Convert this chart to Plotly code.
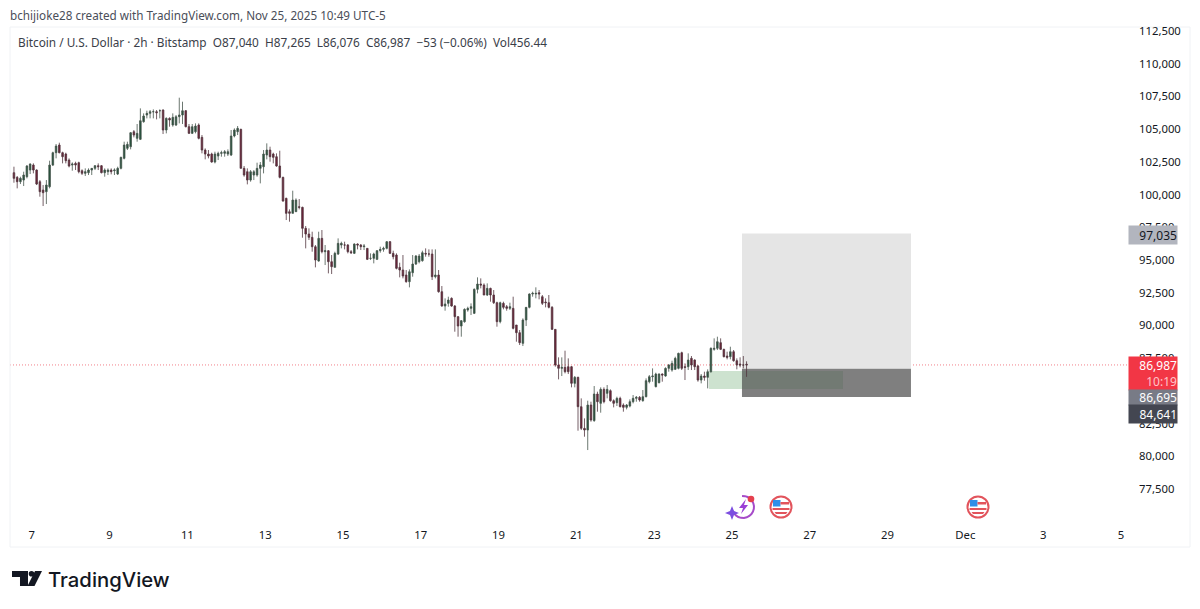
import math
import pandas as pd
import plotly.graph_objects as go

opens = [101675,101318,100987,101114,101369,101878,102260,101878,100987,100350,
    100223,100605,102260,103203,103789,103203,103101,102642,102260,102388,
    102439,101827,101624,101675,101878,102006,102209,102209,101675,101751,
    101878,101827,101573,102006,102770,103534,103661,104807,104298,104222,
    105572,106081,106208,106335,106335,106412,106463,104935,105826,105317,
    105317,105954,106081,106412,105189,104680,104807,105317,104374,103407,
    103101,103101,102490,102948,103152,103152,103101,103025,104476,104807,
    104986,102006,101751,101114,101497,101497,102006,102133,103025,103407,
    103101,102897,102184,101318,
    99715,98696,98568,98696,99078,99027,97422,96989,96735,96021,
    94926,96658,95640,95716,94875,94442,95461,96149,96149,96149,
    95640,95512,96225,96149,96021,95894,95130,95130,95054,95716,
    95818,95894,96404,95512,95385,94442,94239,93857,93347,94035,
    94697,94875,94952,95512,95461,95461,93729,93857,92583,91488,
    91692,92074,91488,90673,89960,90291,91182,91309,90927,92761,
    93169,93092,92328,92838,92328,91743,90291,
    91693,91438,91311,91311,90038,89452,88637,90420,91387,92406,
    92406,92508,92202,91795,91744,91387,89706,86981,86726,86803,
    86854,86854,85580,86039,83797,82142,82014,83925,82728,84765,
    84052,85122,84816,85020,84256,84103,84434,83925,83746,83848,
    84179,84434,84510,84256,84561,85708,86090,85326,85631,86293,
    86140,86726,86599,86650,86726,87923,86854,86854,87490,87363,
    86905,85835,86140,86039,86472,88178,88255,88688,88178,87669,
    87618,88000,87312,87057,86981,87040]

highs = [102133,101420,101369,101751,102260,102388,102388,101929,101114,100732,
    101114,102592,103279,103865,103967,103279,103203,102770,102464,102515,
    102515,101929,102006,102006,102006,102260,102388,102260,102006,102006,
    102006,102006,102133,102897,104043,104043,104782,104935,105393,106590,
    106208,106412,106463,106514,106463,106514,106514,105903,105903,106208,
    106081,107405,107100,106463,105393,105393,105444,105444,104553,103534,
    103407,103203,103279,103279,103356,103407,103458,104935,105062,105240,
    105037,102184,102006,101878,101878,102439,102490,103407,103916,103661,
    103203,103152,103356,101369,
    99766,98874,100300,99715,99664,99078,97601,97422,97168,96149,
    97168,97295,96149,95767,95385,95640,96658,96404,96404,96225,
    95767,96276,96276,96225,96225,95894,95512,95563,95767,96021,
    96021,96454,96454,95716,95512,94799,95385,94239,94290,95385,
    95385,95461,95716,95894,95818,95818,95818,94239,93016,92074,
    92201,92150,91564,90724,90418,91309,91437,91691,92838,93678,
    93602,93220,93220,92889,92710,91819,91819,
    91820,91566,91744,92202,90038,89655,90547,91387,92457,92584,
    92916,92712,92330,92075,92330,91489,89706,87567,87567,88076,
    87490,86905,86140,86090,84434,82906,84256,84179,85376,84944,
    85275,85275,85453,85122,84358,84561,84561,84052,84001,84358,
    84689,84612,84612,85071,85962,86217,86726,86395,86344,86344,
    86803,87057,87312,87618,87923,88000,87108,87873,87669,87414,
    86981,86293,86472,86650,88331,89019,89146,89019,88229,88000,
    88382,88127,87490,87567,87669,87265]

lows = [100910,100478,100809,100656,101242,101573,101624,100732,99841,99128,
    99281,100478,102184,102770,103152,102388,102388,102082,101827,101878,
    101624,101497,101420,101497,101497,101878,101878,101624,101369,101497,
    101547,101497,101497,101929,102693,103407,103458,104374,104043,104171,
    105495,105826,105826,105826,105750,105826,104629,104680,105189,105189,
    105240,105444,105393,105138,104629,104629,104680,104222,103152,102693,
    102770,102439,102388,102642,102897,102897,102948,102948,104374,104553,
    102006,101369,100783,100987,101114,101369,100860,101624,102693,102515,
    102388,102133,101242,99459,
    98059,97932,98568,98696,98874,96709,95894,96531,95640,94442,
    94875,95512,94621,93984,93933,94442,95385,95894,95818,95512,
    95461,95461,95818,95767,95767,95003,95003,94748,95003,95563,
    95640,95818,95461,95054,94290,93678,93602,93271,92914,93729,
    94621,94748,94875,95258,95258,93475,93602,92507,91437,91131,
    91437,91437,89527,89145,89145,90214,91055,90800,90876,92456,
    92838,92328,92252,91819,91640,89909,90163,
    91235,91133,91184,89706,88764,88509,88433,89961,91311,92202,
    92075,92001,91566,91387,91311,89655,86854,85886,86140,86344,
    86293,85275,85275,81964,82014,81505,80486,82651,82651,83415,
    83339,84052,84434,84179,83746,83848,83746,83415,83594,83746,
    84052,84179,84179,84179,84510,85580,85708,85275,85580,85708,
    86090,86472,86472,86599,86650,86599,85835,86599,86599,86599,
    85708,85580,85784,85198,86395,88076,88127,88127,87567,87414,
    87414,87236,86650,86803,86726,86076]

closes = [101242,100987,101242,101497,102184,102337,101878,100808,100223,100147,
    100732,102260,103203,103712,103203,102897,102592,102184,102337,102260,
    101751,101624,101751,101878,102006,102209,102133,101675,101878,101878,
    101751,101878,102006,102846,103789,103840,104731,104553,104680,105648,
    106004,106208,106335,106335,106259,106412,104935,105826,105699,105903,
    105954,106081,106412,105189,104680,105189,105240,104298,103407,103101,
    102948,102490,103101,103152,103203,103279,103279,104476,104935,105062,
    102006,101497,101114,101751,101751,102006,102260,103101,103407,102897,
    102846,102184,101318,99510,
    98568,98568,99587,99587,99027,97422,96989,96735,96021,95003,
    96658,95640,95716,94875,94493,95512,96276,96276,96149,95640,
    95563,96225,96149,96021,96072,95054,95130,95461,95716,95818,
    95894,96404,95512,95258,94366,94239,93780,93347,94111,94697,
    95308,95308,95563,95461,95461,93729,93857,92583,91488,91641,
    91946,91488,90673,89960,90367,91233,91309,91437,92761,93169,
    93092,92328,92838,92328,91743,90291,91743,
    91387,91311,91438,89783,89452,88688,90420,91387,92406,92457,
    92457,92406,91693,91744,91387,89706,86981,86726,86803,86472,
    86472,85580,86039,83797,82142,82014,83925,82779,84765,84179,
    85122,84179,85122,84256,84052,84434,83797,83746,83925,84179,
    84434,84510,84307,84561,85784,86090,86140,86293,86293,86217,
    86726,86981,87108,87490,87873,86726,86803,87363,86981,86854,
    85835,86140,86039,86472,88255,88255,88764,88178,87618,87567,
    88000,87312,86981,86981,86981,86987]

dates = pd.date_range(end='2025-11-25 09:00', periods=len(closes), freq='2h')

price_ticks = [77500,80000,82500,85000,87500,90000,92500,95000,97500,100000,102500,105000,107500,110000,112500]
date_ticks = ['2025-11-07','2025-11-09','2025-11-11','2025-11-13','2025-11-15','2025-11-17','2025-11-19',
    '2025-11-21','2025-11-23','2025-11-25','2025-11-27','2025-11-29','2025-12-01','2025-12-03','2025-12-05']
date_labels = ['7','9','11','13','15','17','19','21','23','25','27','29','Dec','3','5']

last_price = 86987
target = 97035
entry = 86695
stop = 84530
zone_top = 86517
zone_bottom = 85140

FONT = 'Noto Sans'
L, R, T, B = 10, 1128, 27, 522
# page body has an 8px margin, so the figure is 8px smaller and the margins shrink with it
PAGE = 8


def px(x, y):
    return (x - L) / (R - L), (B - y) / (B - T)


def path(points, close=True):
    parts = []
    for i, (x, y) in enumerate(points):
        a, b = px(x, y)
        parts.append(('M' if i == 0 else 'L') + f'{a:.5f},{b:.5f}')
    return ' '.join(parts) + (' Z' if close else '')


def poly(points, color):
    return dict(type='path', xref='paper', yref='paper', path=path(points), fillcolor=color, line_width=0, layer='above')


def circle(cx, cy, r, fill, line='rgba(0,0,0,0)', width=0):
    x0, y0 = px(cx - r, cy + r)
    x1, y1 = px(cx + r, cy - r)
    return dict(type='circle', xref='paper', yref='paper', x0=x0, y0=y0, x1=x1, y1=y1,
                fillcolor=fill, line=dict(color=line, width=width), layer='above')


def flag_icon(cx, cy):
    s = [circle(cx, cy, 10.5, 'white', '#e2545c', 2)]
    s.append(poly([(cx-8, cy-7), (cx-0.5, cy-7), (cx-0.5, cy-0.5), (cx-8, cy-0.5)], '#2f8fe8'))
    s.append(poly([(cx-0.5, cy-5), (cx+8, cy-5), (cx+8, cy-2.5), (cx-0.5, cy-2.5)], '#e2545c'))
    s.append(poly([(cx-8.5, cy+1), (cx+8.5, cy+1), (cx+8.5, cy+3), (cx-8.5, cy+3)], '#e2545c'))
    s.append(poly([(cx-6.5, cy+5), (cx+6.5, cy+5), (cx+5, cy+7), (cx-5, cy+7)], '#e2545c'))
    return s


def bolt_icon(cx, cy):
    arc = [(cx + 11 * math.cos(math.radians(a)), cy + 11 * math.sin(math.radians(a))) for a in range(-95, 175, 15)]
    s = [dict(type='path', xref='paper', yref='paper', path=path(arc, close=False),
              line=dict(color='#a64bc9', width=2), layer='above')]
    s.append(poly([(cx+3, cy-8), (cx-4, cy+1), (cx, cy+1), (cx-2, cy+7), (cx+5, cy-2), (cx+1, cy-2)], '#9b3fd6'))
    s.append(poly([(cx-11, cy-1), (cx-9, cy+4), (cx-4, cy+6), (cx-9, cy+8), (cx-11, cy+13), (cx-13, cy+8), (cx-18, cy+6), (cx-13, cy+4)], '#7c4ee0'))
    s.append(circle(cx+8, cy-8, 3.3, '#e5404e'))
    return s


fig = go.Figure(go.Candlestick(
    x=dates, open=opens, high=highs, low=lows, close=closes,
    increasing=dict(line=dict(color='#46564c', width=0.8), fillcolor='#1f4f37'),
    decreasing=dict(line=dict(color='#52363f', width=0.8), fillcolor='#6f1f36'),
    whiskerwidth=0, showlegend=False, hoverinfo='skip',
))

box_start = '2025-11-25 06:10'
box_end = '2025-11-29 14:26'
shapes = [
    dict(type='rect', xref='x', yref='y', x0=box_start, x1=box_end, y0=entry, y1=target,
         fillcolor='#e5e5e5', line_width=0, layer='below'),
    dict(type='rect', xref='x', yref='y', x0=box_start, x1=box_end, y0=stop, y1=entry,
         fillcolor='#7f7f7f', line_width=0, layer='below'),
    dict(type='rect', xref='x', yref='y', x0='2025-11-24 09:48', x1=box_start, y0=zone_bottom, y1=zone_top,
         fillcolor='#cde2cf', line_width=0, layer='below'),
    dict(type='rect', xref='x', yref='y', x0=box_start, x1='2025-11-27 20:28', y0=zone_bottom, y1=zone_top,
         fillcolor='#727a73', line_width=0, layer='below'),
    dict(type='line', xref='paper', yref='y', x0=0, x1=1, y0=last_price, y1=last_price,
         line=dict(color='#f2808a', width=1, dash='1px,2px'), layer='below'),
]
frame_a = px(10, 547)
frame_b = px(1190, 27)
shapes.append(dict(type='rect', xref='paper', yref='paper', x0=frame_a[0], y0=frame_a[1], x1=frame_b[0], y1=frame_b[1],
                   line=dict(color='#f0f2f5', width=1), layer='below'))
shapes += bolt_icon(743, 507) + flag_icon(781, 507) + flag_icon(978, 507)
# logo
shapes.append(poly([(12, 571), (28, 571), (28, 586), (20, 586), (20, 577), (12, 577)], '#131722'))
shapes.append(circle(31.5, 573.7, 2.8, '#131722'))
shapes.append(poly([(35, 571), (42, 571), (34.5, 586), (27.5, 586)], '#131722'))


def tag(y, text, bg, color, h):
    a, b = px(R, y)
    return dict(xref='paper', yref='paper', x=a, y=b, xanchor='left', yanchor='middle',
                text=text, showarrow=False, bgcolor=bg, width=48, height=h, borderpad=0, align='right',
                font=dict(family=FONT, size=12, color=color))


def note(x, y, text, size, color, xanchor='left', family=FONT, weight=None):
    a, b = px(x, y)
    return dict(xref='paper', yref='paper', x=a, y=b, xanchor=xanchor, yanchor='middle', text=text, showarrow=False,
                font=dict(family=family, size=size, color=color, weight=weight))


annotations = [
    note(8, 15, 'bchijioke28 created with TradingView.com, Nov 25, 2025 10:49 UTC-5', 11.7, '#4a4e59'),
    note(16, 42, 'Bitcoin / U.S. Dollar · 2h · Bitstamp&nbsp;&nbsp;O87,040&nbsp;&nbsp;H87,265&nbsp;&nbsp;L86,076&nbsp;&nbsp;C86,987&nbsp;&nbsp;−53 (−0.06%)&nbsp;&nbsp;Vol456.44', 11.8, '#3a3e49'),
    note(46, 579, 'TradingView', 20.3, '#131722', family='Inter', weight=500),
    tag(234.5, '97,035', '#b2b5be', '#131722', 18),
    tag(373.5, '86,987<br><span style="color:#ffc4ca">10:19</span>', '#f23645', '#ffffff', 33),
    tag(397.5, '86,695', '#787b86', '#ffffff', 15),
    tag(414, '84,641', '#434651', '#ffffff', 18),
]

fig.update_layout(
    width=1200 - PAGE, height=609 - PAGE,
    margin=dict(l=L - PAGE, r=1200 - R, t=T - PAGE, b=609 - B),
    paper_bgcolor='white', plot_bgcolor='white',
    font=dict(family=FONT, size=11.3, color='#131722'),
    showlegend=False,
    shapes=shapes,
    annotations=annotations,
    xaxis=dict(
        type='date', range=['2025-11-06 10:34', '2025-12-05 04:20'], rangeslider=dict(visible=False),
        tickmode='array', tickvals=date_ticks, ticktext=date_labels, showgrid=False, zeroline=False,
        showline=False, ticks='', ticklabelstandoff=5,
    ),
    yaxis=dict(
        range=[74988, 112806], side='right', tickmode='array', tickvals=price_ticks,
        ticktext=[f'{v:,}' for v in price_ticks], showgrid=False, zeroline=False, showline=False,
        ticks='', ticklabelstandoff=10,
    ),
)

fig.write_html("out.html")
